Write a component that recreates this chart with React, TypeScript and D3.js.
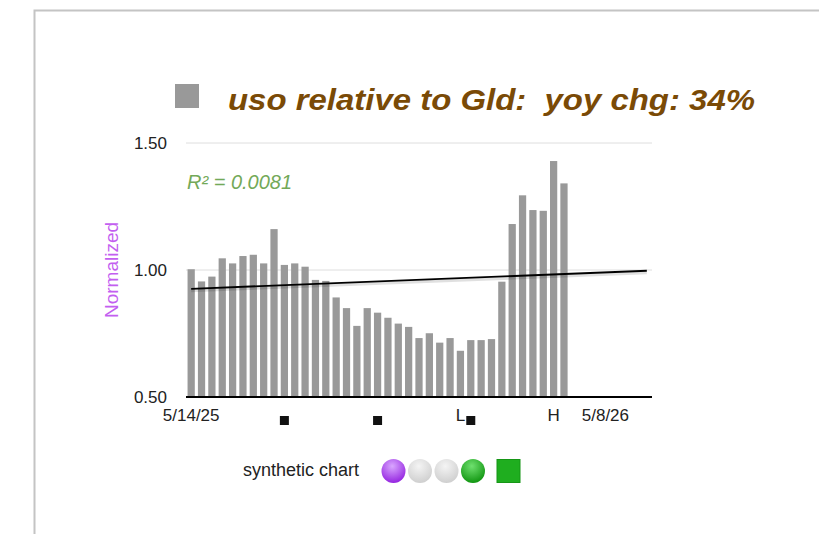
import * as d3 from "d3";

// values (normalized uso / gld, weekly)
const values = [
  1.003, 0.955, 0.974, 1.046, 1.026, 1.055, 1.06, 1.026, 1.161, 1.02, 1.026,
  1.013, 0.961, 0.957, 0.892, 0.85, 0.78, 0.85, 0.832, 0.812, 0.789, 0.776,
  0.732, 0.751, 0.714, 0.732, 0.682, 0.724, 0.724, 0.728, 0.954, 1.181, 1.294,
  1.236, 1.233, 1.429, 1.341,
];
const slotCount = 45;
const yTicks = [0.5, 1.0, 1.5];
const gridTicks = [1.0, 1.5];
const xLabels = [
  { slot: 0, text: "5/14/25" },
  { slot: 26, text: "L" },
  { slot: 35, text: "H" },
  { slot: 40, text: "5/8/26" },
];
const markerSlots = [9, 18, 27];
const trendStart = 0.926;
const trendEnd = 0.997;
const legendDots = [
  { id: "purple", light: "#d9a6ff", dark: "#9526e0" },
  { id: "gray1", light: "#f4f4f4", dark: "#cfcfcf" },
  { id: "gray2", light: "#f4f4f4", dark: "#cfcfcf" },
  { id: "green", light: "#6fe06f", dark: "#119611" },
];

export default function App() {
  const width = 819;
  const height = 534;
  const x = d3
    .scaleBand<number>()
    .domain(d3.range(slotCount))
    .range([186, 652])
    .paddingInner(0.3)
    .paddingOuter(0.15);
  const y = d3.scaleLinear().domain([0.5, 1.5]).range([397, 143]);
  const cx = (i: number) => (x(i) ?? 0) + x.bandwidth() / 2;

  const trend = d3
    .line<number>()
    .x((d, i) => cx(i === 0 ? 0 : slotCount - 1))
    .y((d) => y(d));

  return (
    <svg
      width={width}
      height={height}
      style={{ position: "absolute", left: 0, top: 0, background: "#fff" }}
      fontFamily="'Liberation Sans', Arial, Helvetica, sans-serif"
    >
      <defs>
        {legendDots.map((d) => (
          <radialGradient key={d.id} id={`dot-${d.id}`} cx="45%" cy="30%" r="70%">
            <stop offset="0%" stopColor={d.light} />
            <stop offset="100%" stopColor={d.dark} />
          </radialGradient>
        ))}
      </defs>

      {/* frame */}
      <path d="M34.5,534 V10.5 H819" fill="none" stroke="#c4c4c4" strokeWidth={2} />

      {/* title */}
      <rect x={175} y={84} width={24} height={24} fill="#999" />
      <text
        x={228}
        y={110}
        fontSize={30}
        fontWeight="bold"
        fontStyle="italic"
        fill="#7a4a06"
        textLength={527}
        lengthAdjust="spacingAndGlyphs"
        style={{ whiteSpace: "pre" }}
      >
        uso relative to Gld:  yoy chg: 34%
      </text>

      {/* grid */}
      {gridTicks.map((t) => (
        <line key={t} x1={186} x2={652} y1={y(t)} y2={y(t)} stroke="#dedede" strokeWidth={1} />
      ))}

      {/* bars */}
      {values.map((v, i) => (
        <rect
          key={i}
          x={x(i)}
          y={y(v)}
          width={x.bandwidth()}
          height={y(0.5) - y(v)}
          fill="#999999"
        />
      ))}

      {/* trendline */}
      <path
        d={trend([trendStart, trendEnd]) ?? ""}
        transform="translate(0,2)"
        fill="none"
        stroke="#000"
        strokeOpacity={0.12}
        strokeWidth={3}
      />
      <path d={trend([trendStart, trendEnd]) ?? ""} fill="none" stroke="#000" strokeWidth={1.8} />

      {/* axis baseline */}
      <line x1={186} x2={652} y1={y(0.5)} y2={y(0.5)} stroke="#000" strokeWidth={2} />

      {/* y labels */}
      {yTicks.map((t) => (
        <text key={t} x={167} y={y(t) + 6} fontSize={17} textAnchor="end" fill="#222">
          {t.toFixed(2)}
        </text>
      ))}
      <text
        transform={`translate(118,${y(1.0)}) rotate(-90)`}
        fontSize={19}
        textAnchor="middle"
        fill="#c35ff0"
      >
        Normalized
      </text>

      <text x={187} y={189} fontSize={20} fontStyle="italic" fill="#73a958">
        R² = 0.0081
      </text>

      {/* x labels */}
      {xLabels.map((l) => (
        <text key={l.text} x={cx(l.slot)} y={421} fontSize={17} textAnchor="middle" fill="#222">
          {l.text}
        </text>
      ))}
      {markerSlots.map((s) => (
        <rect key={s} x={cx(s) - 4.5} y={416} width={9} height={9} fill="#111" />
      ))}

      {/* legend */}
      <text x={243} y={476} fontSize={18} fill="#222">
        synthetic chart
      </text>
      {legendDots.map((d, i) => (
        <circle key={d.id} cx={393.5 + i * 26.5} cy={471} r={12} fill={`url(#dot-${d.id})`} />
      ))}
      <rect x={497} y={459.5} width={23} height={23} fill="#1fae1f" stroke="#169616" strokeWidth={1} />
    </svg>
  );
}
